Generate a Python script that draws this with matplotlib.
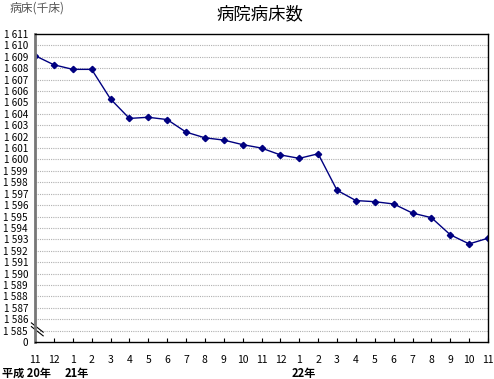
import matplotlib.pyplot as plt

plt.rcParams['font.family'] = ['Noto Sans CJK JP', 'DejaVu Sans']

# month labels along the x axis
months = ['11', '12', '1', '2', '3', '4', '5', '6', '7', '8', '9', '10', '11', '12',
          '1', '2', '3', '4', '5', '6', '7', '8', '9', '10', '11']
# beds (thousand)
beds = [1609.1, 1608.3, 1607.9, 1607.9, 1605.3, 1603.6, 1603.7, 1603.5, 1602.4, 1601.9,
        1601.7, 1601.3, 1601.0, 1600.4, 1600.1, 1600.5, 1597.3, 1596.4, 1596.3, 1596.1,
        1595.3, 1594.9, 1593.4, 1592.6, 1593.1]
# era / year labels under the month labels: (index, text)
year_labels = [(0, '平成 20年'), (2, '21年'), (14, '22年')]
ytick_vals = list(range(1585, 1612))

fig = plt.figure(figsize=(4.94, 3.79), dpi=100)
ax = fig.add_axes([0.0709, 0.0976, 0.9170, 0.8127])

x = list(range(len(beds)))
ax.plot(x, beds, color='#000080', lw=1.0, marker='D', ms=3.2, mfc='#000080', mec='#000080')

ax.set_xlim(0, len(beds) - 1)
ax.set_ylim(1584, 1611)

ax.set_yticks([1584] + ytick_vals)
ax.set_yticklabels(['0'] + [f'{v // 1000} {v % 1000:03d}' for v in ytick_vals], fontsize=7.2)
ax.tick_params(axis='y', length=0, pad=5)
for v in ytick_vals[:-1]:
    ax.axhline(v, color='#b0b0b0', lw=0.8, ls=(0, (1, 1)), zorder=0)

ax.set_xticks(x)
ax.set_xticklabels(months, fontsize=7.5)
ax.tick_params(axis='x', direction='in', length=3, pad=9, width=0.8)

ax.spines['left'].set_color('#777777')
ax.spines['left'].set_linewidth(2.0)
for s in ['top', 'right', 'bottom']:
    ax.spines[s].set_color('black')
    ax.spines[s].set_linewidth(1.0)

# axis break marks
for dy in (0.0, 0.012):
    ax.plot([-0.008, 0.018], [0.042 - dy + 0.02, 0.042 - dy - 0.01], transform=ax.transAxes,
            color='black', lw=0.8, clip_on=False)

for i, txt in year_labels:
    if i == 0:
        fig.text(2 / 494, 1 - 373 / 379, txt, fontsize=8, fontweight='bold', ha='left', va='center')
    else:
        ax.annotate(txt, xy=(i, 0), xycoords=('data', 'axes fraction'), xytext=(3, -22.5),
                    textcoords='offset points', fontsize=8, fontweight='bold', ha='center', va='center')

fig.text(0.527, 1 - 14 / 379, '病院病床数', fontsize=12.5, ha='center', va='center')
fig.text(10 / 494, 1 - 8 / 379, '病床(千床)', fontsize=8.5, ha='left', va='center', color='#555555')

fig.savefig('out.png', dpi=100)
